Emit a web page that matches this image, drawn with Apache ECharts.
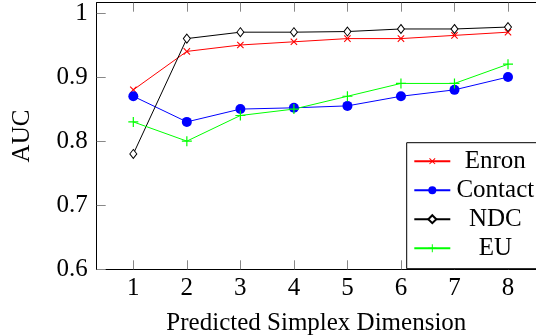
<!DOCTYPE html>
<html><head><meta charset="utf-8">
<script src="https://cdn.jsdelivr.net/npm/echarts@6/dist/echarts.min.js"></script>
<style>html,body{margin:0;padding:0;background:#fff}#c{width:536px;height:335px}</style>
</head><body><div id="c"></div>
<script>
const dims = [1, 2, 3, 4, 5, 6, 7, 8];
const enron = [0.88, 0.94, 0.95, 0.955, 0.96, 0.96, 0.965, 0.97];
const contact = [0.87, 0.83, 0.85, 0.852, 0.855, 0.87, 0.88, 0.90];
const ndc = [0.78, 0.96, 0.97, 0.97, 0.971, 0.975, 0.975, 0.978];
const eu = [0.83, 0.80, 0.84, 0.85, 0.87, 0.89, 0.89, 0.92];
const yTicks = [0.6, 0.7, 0.8, 0.9, 1.0];
const xLabel = 'Predicted Simplex Dimension';
const yLabel = 'AUC';

const FONT = 'Liberation Serif';
const plusPath = 'path://M4.4,0 H5.6 V4.4 H10 V5.6 H5.6 V10 H4.4 V5.6 H0 V4.4 H4.4 Z';
const pairs = arr => dims.map((d, i) => [d, arr[i]]);

const chart = echarts.init(document.getElementById('c'), null, {renderer: 'canvas'});
const tickStyle = {show: true, inside: true, length: 9, lineStyle: {color: '#888', width: 1}};
const X_MIN = 0.316, X_MAX = 8.523;
chart.setOption({
  animation: false,
  textStyle: {fontFamily: FONT},
  grid: {left: 96.7, top: 2.7, bottom: 65.7, right: 0, containLabel: false, outerBoundsMode: 'none'},
  xAxis: [{
    type: 'value', min: X_MIN, max: X_MAX,
    axisLine: {show: true, onZero: false, lineStyle: {color: '#000', width: 1}},
    axisTick: Object.assign({customValues: dims}, tickStyle),
    axisLabel: {customValues: dims, color: '#000', fontFamily: FONT, fontSize: 25, margin: 7},
    splitLine: {show: false},
    name: xLabel, nameLocation: 'middle', nameGap: 42,
    nameTextStyle: {color: '#000', fontFamily: FONT, fontSize: 25}
  }, {
    type: 'value', min: X_MIN, max: X_MAX, position: 'top',
    axisLine: {show: true, onZero: false, lineStyle: {color: '#000', width: 1}},
    axisTick: Object.assign({customValues: dims}, tickStyle),
    axisLabel: {show: false}, splitLine: {show: false}
  }],
  yAxis: {
    type: 'value', min: 0.6, max: 1.016,
    axisLine: {show: true, onZero: false, lineStyle: {color: '#000', width: 1}},
    axisTick: Object.assign({customValues: yTicks}, tickStyle),
    axisLabel: {customValues: yTicks, color: '#000', fontFamily: FONT, fontSize: 25, margin: 9,
      formatter: v => (Math.abs(v - 1) < 1e-9 ? '1' : v.toFixed(1))},
    splitLine: {show: false},
    name: yLabel, nameLocation: 'middle', nameGap: 62,
    nameTextStyle: {color: '#000', fontFamily: FONT, fontSize: 25}
  },
  legend: {
    left: 406.7, top: 142.7, orient: 'vertical',
    borderColor: '#000', borderWidth: 1, padding: [6, 20, 8, 6.6],
    itemWidth: 36, itemHeight: 10, itemGap: 4,
    backgroundColor: '#fff',
    formatter: name => '{t|' + name + '}',
    textStyle: {
      fontFamily: FONT, fontSize: 25, color: '#000',
      rich: {t: {fontFamily: FONT, fontSize: 25, color: '#000', width: 80, align: 'center', lineHeight: 25}}
    },
    data: ['Enron', 'Contact', 'NDC', 'EU']
  },
  series: [
    {name: 'Enron', type: 'line', data: pairs(enron), symbol: plusPath, symbolSize: 9, symbolRotate: 45,
      lineStyle: {color: '#ff0000', width: 1}, itemStyle: {color: '#ff0000'}},
    {name: 'Contact', type: 'line', data: pairs(contact), symbol: 'circle', symbolSize: 10,
      lineStyle: {color: '#0000ff', width: 1}, itemStyle: {color: '#0000ff'}},
    {name: 'NDC', type: 'line', data: pairs(ndc), symbol: 'diamond', symbolSize: [7, 9],
      lineStyle: {color: '#000', width: 1}, itemStyle: {color: '#fff', borderColor: '#000', borderWidth: 1}},
    {name: 'EU', type: 'line', data: pairs(eu), symbol: plusPath, symbolSize: 10,
      lineStyle: {color: '#00ff00', width: 1}, itemStyle: {color: '#00ff00'}}
  ]
});
</script></body></html>
